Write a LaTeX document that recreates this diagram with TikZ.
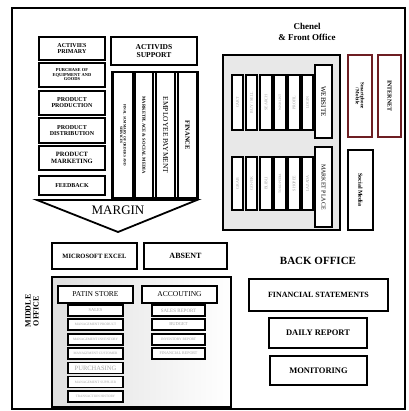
\documentclass[tikz,border=0pt]{standalone}
\usepackage{fontspec}
\setmainfont{Liberation Serif}
\usepackage{tikz}
\usetikzlibrary{positioning}
\definecolor{boDarkRed}{RGB}{110,30,35}
\definecolor{boGray}{RGB}{232,232,232}
\newcommand{\fsz}[1]{\fontsize{#1}{#1}\selectfont}

\begin{document}
\begin{tikzpicture}[
        x=1pt, y=-1pt,
        box/.style={draw, line width=1.6pt, fill=white, inner sep=1pt, align=center, font=\bfseries\fsz{6}},
        vbox/.style={box, rotate=-90},
        tab/.style={draw, line width=1.8pt, fill=white, inner sep=0pt, rotate=90, text=gray!75, font=\fsz{4}, minimum height=11.5pt},
        item/.style={draw, line width=1.5pt, fill=white, inner sep=0pt, text=gray!70, font=\fsz{3.4}, minimum height=11pt},
        title/.style={font=\bfseries\fsz{11}, align=center}
      ]
        \useasboundingbox (0,0) rectangle (408,411);
        % outer frame
        \draw[line width=2.4pt] (12,8) rectangle (405,409);

        % activities
        \node[box, minimum width=66pt, minimum height=23pt] (primary) at (72,48.5) {ACTIVIES\\PRIMARY};
        \node[box, minimum width=66pt, minimum height=24pt, font=\bfseries\fsz{4.5}] (purchase) at (72,75) {PURCHASE OF\\EQUIPMENT AND\\GOODS};
        \node[box, minimum width=66pt, minimum height=24pt] (production) at (72,103) {PRODUCT\\PRODUCTION};
        \node[box, minimum width=66pt, minimum height=25pt] (distribution) at (72,130.5) {PRODUCT\\DISTRIBUTION};
        \node[box, minimum width=66pt, minimum height=24pt, font=\bfseries\fsz{6.5}] (marketing) at (72,158) {PRODUCT\\MARKETING};
        \node[box, minimum width=66pt, minimum height=19pt] (feedback) at (72,185.5) {FEEDBACK};

        \node[box, minimum width=86pt, minimum height=28pt, font=\bfseries\fsz{7.5}] (support) at (154,51) {ACTIVIDS\\SUPPORT};
        \node[box, minimum width=86pt, minimum height=126pt] (supportbox) at (155,135) {};
        \node[vbox, minimum width=126pt, minimum height=20pt, font=\bfseries\fsz{3.6}] (summary) at (123,135) {FINAL SUMMARY OF ORDERS AND\\SERVICES};
        \node[vbox, minimum width=126pt, minimum height=18pt, font=\bfseries\fsz{4.6}] (socialmkt) at (144,135) {MARKETPLACE \& SOCIAL MEDIA};
        \node[vbox, minimum width=126pt, minimum height=19pt, font=\fsz{7.5}] (payment) at (165.5,135) {EMPLOYEE PAYMENT};
        \node[vbox, minimum width=126pt, minimum height=19pt, font=\bfseries\fsz{6.5}] (finance) at (187.5,135) {FINANCE};

        % margin
        \draw[line width=1.8pt, line join=miter] (37,200) -- (197,200) -- (118,232) -- cycle;
        \node[font=\fsz{13}] (margin) at (118,210) {MARGIN};

        % channel and front office
        \node[title, font=\bfseries\fsz{9}] (channel) at (307,32) {Chenel\\[2pt]\& Front Office};
        \node[draw, line width=1.8pt, fill=boGray, minimum width=117pt, minimum height=175pt] (frontbox) at (281.5,142.5) {};
        \node[vbox, minimum width=73pt, minimum height=17pt, font=\fsz{7}] (website) at (323.5,101.5) {WEBSITE};
        \node[vbox, minimum width=80pt, minimum height=17pt, font=\fsz{6}] (marketplace) at (323.5,187) {MARKET PLACE};

        \node[tab, minimum width=55pt] (cart) at (237.5,102.5) {CART};
        \node[tab, minimum width=55pt] (buysell) at (251.5,102.5) {BUY / SELL};
        \node[tab, minimum width=55pt] (search) at (266,102.5) {SEARCH};
        \node[tab, minimum width=55pt, font=\fsz{3.4}] (wishlist) at (280,102.5) {WISHLIST};
        \node[tab, minimum width=55pt] (profil) at (294,102.5) {PROFIL};
        \node[tab, minimum width=55pt] (login) at (307.5,102.5) {LOGIN};

        \node[tab, minimum width=53pt] (grab) at (237.5,183.5) {GRAB};
        \node[tab, minimum width=53pt] (gojek) at (251.5,183.5) {GO-JEK};
        \node[tab, minimum width=53pt] (blibli) at (266,183.5) {BLIBLI};
        \node[tab, minimum width=53pt, font=\fsz{3.4}] (tokopedia) at (280,183.5) {TOKOPEDIA};
        \node[tab, minimum width=53pt] (shopee) at (294,183.5) {SHOPEE};
        \node[tab, minimum width=53pt] (lazada) at (307.5,183.5) {LAZADA};

        \node[vbox, draw=boDarkRed, minimum width=82pt, minimum height=24pt, font=\bfseries\fsz{5}] (mobile) at (360,96) {Smartphone\\/ Mobile};
        \node[vbox, draw=boDarkRed, minimum width=82pt, minimum height=23pt, font=\bfseries\fsz{6}] (internet) at (389.5,96) {INTERNET};
        \node[vbox, minimum width=80pt, minimum height=25pt, line width=1.8pt, font=\bfseries\fsz{6}] (social) at (360.5,190) {Social Media};

        % middle office
        \node[box, minimum width=85pt, minimum height=26pt, font=\bfseries\fsz{6.5}] (excel) at (94.5,256) {MICROSOFT EXCEL};
        \node[box, minimum width=83pt, minimum height=26pt, font=\bfseries\fsz{8}] (absent) at (185.5,256) {ABSENT};
        \node[font=\bfseries\fsz{8}, align=center, rotate=90] (middle) at (32,311) {MIDDLE\\OFFICE};
        \node[draw, line width=1.8pt, left color=gray!25, right color=white, minimum width=179pt, minimum height=130pt] (middlebox) at (141.5,342) {};

        \node[box, minimum width=75pt, minimum height=17pt, font=\fsz{7.5}] (store) at (95.5,294.5) {PATIN STORE};
        \node[item, minimum width=55pt, font=\fsz{4.5}] (sales) at (95.5,310.5) {SALES};
        \node[item, minimum width=55pt] (mproduct) at (95.5,324.5) {MANAGEMENT PRODUCT};
        \node[item, minimum width=55pt] (minventory) at (95.5,339.5) {MANAGEMENT INVENTORY};
        \node[item, minimum width=55pt] (mcustomer) at (95.5,353.5) {MANAGEMENT CUSTOMER};
        \node[item, minimum width=55pt, font=\fsz{6.5}] (purchasing) at (95.5,368) {PURCHASING};
        \node[item, minimum width=55pt] (msupplier) at (95.5,382) {MANAGEMENT SUPPLIER};
        \node[item, minimum width=55pt] (history) at (95.5,396.5) {TRANSACTION HISTORY};

        \node[box, minimum width=75pt, minimum height=17pt, font=\fsz{7.5}] (accounting) at (179.5,294.5) {ACCOUTING};
        \node[item, minimum width=53pt, font=\fsz{5}] (salesreport) at (178.5,310.5) {SALES REPORT};
        \node[item, minimum width=53pt, font=\fsz{4.5}] (budget) at (178.5,324.5) {BUDGET};
        \node[item, minimum width=53pt, font=\fsz{3.6}] (invreport) at (178.5,339.5) {INVENTORY REPORT};
        \node[item, minimum width=53pt, font=\fsz{4}] (finreport) at (178.5,353.5) {FINANCIAL REPORT};

        % back office
        \node[title] (back) at (318,261) {BACK OFFICE};
        \node[box, minimum width=139pt, minimum height=32pt, font=\bfseries\fsz{8}] (statements) at (318.5,295) {FINANCIAL STATEMENTS};
        \node[box, minimum width=98pt, minimum height=30pt, font=\bfseries\fsz{8.5}] (daily) at (318,333) {DAILY REPORT};
        \node[box, minimum width=97pt, minimum height=29pt, font=\bfseries\fsz{8.5}] (monitoring) at (318.5,370.5) {MONITORING};
      \end{tikzpicture}
\end{document}
